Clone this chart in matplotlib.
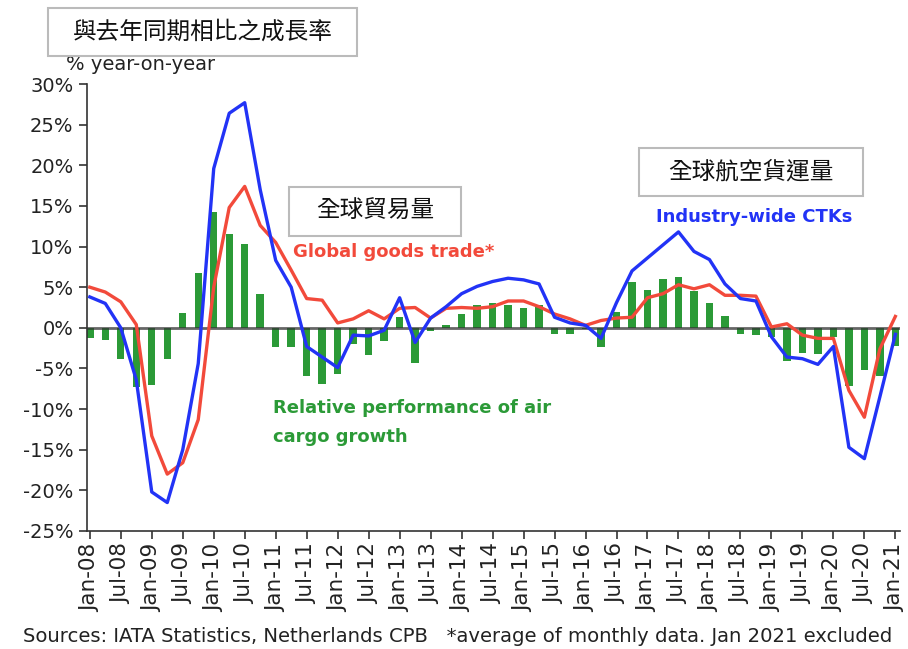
import matplotlib.pyplot as plt
from matplotlib.patches import Rectangle

# quarterly points, Jan-08 .. Jan-21
quarters = list(range(53))

cargo_rel = [-1.3, -1.5, -3.8, -7.3, -7.0, -3.8, 1.8, 6.8, 14.2, 11.6,
             10.3, 4.1, -2.3, -2.3, -5.9, -6.9, -5.7, -2.0, -3.3, -1.6,
             1.3, -4.3, -0.4, 0.3, 1.7, 2.8, 3.1, 2.8, 2.5, 2.8,
             -0.7, -0.7, -0.1, -2.4, 1.9, 5.6, 4.7, 6.0, 6.3, 4.5,
             3.0, 1.5, -0.7, -0.9, -1.1, -4.1, -3.1, -3.2, -1.1, -7.2,
             -5.2, -5.9, -2.2]

ctks = [3.8, 3.0, 0.0, -6.4, -20.2, -21.5, -15.0, -4.4, 19.6, 26.4,
        27.7, 17.0, 8.3, 5.0, -2.3, -3.6, -4.9, -0.9, -1.0, -0.3,
        3.7, -1.8, 1.2, 2.6, 4.2, 5.1, 5.7, 6.1, 5.9, 5.4,
        1.3, 0.6, 0.3, -1.3, 3.1, 7.0, 8.6, 10.2, 11.8, 9.4,
        8.4, 5.4, 3.6, 3.3, -1.1, -3.6, -3.8, -4.5, -2.3, -14.7,
        -16.1, -8.5, -0.8]

goods_trade = [5.0, 4.4, 3.2, 0.4, -13.3, -18.0, -16.6, -11.3, 5.0, 14.8,
               17.4, 12.6, 10.5, 7.1, 3.6, 3.4, 0.6, 1.1, 2.1, 1.1,
               2.4, 2.5, 1.2, 2.4, 2.5, 2.4, 2.6, 3.3, 3.3, 2.6,
               1.7, 1.1, 0.3, 0.9, 1.2, 1.3, 3.7, 4.2, 5.3, 4.8,
               5.3, 4.0, 4.0, 3.9, 0.1, 0.5, -0.9, -1.3, -1.3, -7.7,
               -11.0, -2.6, 1.4]

tick_labels = []
for yr in range(8, 22):
    tick_labels.append(f"Jan-{yr:02d}")
    if yr < 21:
        tick_labels.append(f"Jul-{yr:02d}")
tick_pos = list(range(0, 53, 2))

yticks = [30, 25, 20, 15, 10, 5, 0, -5, -10, -15, -20, -25]

BLUE = "#2233f6"
RED = "#f24a3b"
GREEN = "#2b9a37"

W, H = 908, 649
fig = plt.figure(figsize=(W / 100, H / 100), dpi=100)
ax = fig.add_axes([86.7 / W, 1 - 531 / H, (900 - 86.7) / W, (531 - 84) / H])

ax.bar(quarters, cargo_rel, width=0.48, color=GREEN, zorder=1)
ax.axhline(0, color="#333333", lw=2, alpha=0.75, zorder=2)
ax.plot(quarters, goods_trade, color=RED, lw=2.4, zorder=3)
ax.plot(quarters, ctks, color=BLUE, lw=2.4, zorder=4)

ax.set_xlim(-0.2, 52.3)
ax.set_ylim(-25, 30)
ax.set_xticks(tick_pos)
ax.set_xticklabels(tick_labels, rotation=90, fontsize=15.5, color="#222222")
ax.set_yticks(yticks)
ax.set_yticklabels([f"{v}%" for v in yticks], fontsize=14, color="#222222")
ax.tick_params(axis="both", direction="out", length=6, width=1.2, color="#333333")
ax.tick_params(axis="x", pad=3)
for side in ["top", "right"]:
    ax.spines[side].set_visible(False)
for side in ["left", "bottom"]:
    ax.spines[side].set_color("#333333")
    ax.spines[side].set_linewidth(1.2)


def px(x, y):
    return x / W, 1 - y / H


fig.text(*px(66, 65), "% year-on-year", fontsize=14, color="#222222",
         ha="left", va="center")

cjk = ["Noto Sans CJK TC", "DejaVu Sans"]
boxes = [
    (48, 8, 357, 56, "與去年同期相比之成長率"),
    (289, 187, 461, 236, "全球貿易量"),
    (639, 148, 863, 196, "全球航空貨運量"),
]
for x0, y0, x1, y1, txt in boxes:
    fig.add_artist(Rectangle(px(x0, y1), (x1 - x0) / W, (y1 - y0) / H,
                             transform=fig.transFigure, facecolor="white",
                             edgecolor="#bbbbbb", lw=1.5, zorder=5))
    fig.text(*px((x0 + x1) / 2, (y0 + y1) / 2), txt, family=cjk, fontsize=17,
             color="#111111", ha="center", va="center", zorder=6)

fig.text(*px(293, 252), "Global goods trade*", fontsize=13, fontweight="bold",
         color=RED, ha="left", va="center")
fig.text(*px(852, 217), "Industry-wide CTKs", fontsize=13, fontweight="bold",
         color=BLUE, ha="right", va="center")
fig.text(*px(273, 408), "Relative performance of air", fontsize=13,
         fontweight="bold", color=GREEN, ha="left", va="center")
fig.text(*px(273, 437), "cargo growth", fontsize=13, fontweight="bold",
         color=GREEN, ha="left", va="center")

fig.text(*px(23, 637), "Sources: IATA Statistics, Netherlands CPB   *average of monthly data. Jan 2021 excluded",
         fontsize=14.1, color="#222222", ha="left", va="center")

fig.savefig("out.png", dpi=100)
